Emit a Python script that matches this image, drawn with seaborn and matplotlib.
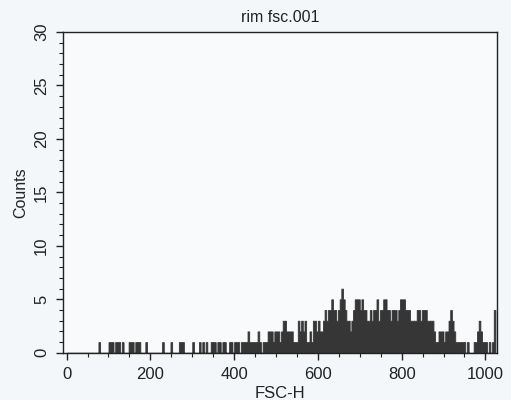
import numpy as np
import pandas as pd
import matplotlib
matplotlib.use("Agg")
import matplotlib.pyplot as plt
import seaborn as sns
from matplotlib.ticker import MultipleLocator

# FSC-H histogram, 256 channels of width 4 (0..1024)
counts = [
    0, 0, 0, 0, 0, 0, 0, 0, 0, 0, 0, 0, 0, 0, 0, 0,
    0, 0, 0, 1, 0, 0, 0, 0, 0, 1, 1, 1, 0, 1, 1, 1,
    0, 1, 0, 0, 0, 1, 1, 1, 0, 1, 1, 1, 0, 0, 0, 1,
    0, 0, 0, 0, 0, 0, 0, 0, 0, 1, 0, 0, 0, 0, 1, 0,
    0, 0, 0, 1, 1, 1, 0, 0, 0, 0, 0, 1, 0, 0, 0, 1,
    0, 1, 0, 1, 0, 0, 1, 1, 1, 0, 1, 1, 0, 1, 1, 0,
    0, 1, 1, 0, 1, 1, 1, 0, 1, 1, 1, 1, 2, 1, 1, 1,
    1, 1, 2, 1, 0, 1, 1, 1, 2, 2, 2, 1, 2, 2, 2, 1,
    2, 3, 3, 2, 2, 2, 2, 1, 1, 1, 3, 2, 3, 2, 3, 1,
    1, 2, 1, 3, 3, 2, 3, 2, 2, 3, 4, 3, 4, 4, 5, 4,
    4, 3, 4, 5, 6, 5, 4, 3, 3, 2, 3, 4, 5, 5, 5, 4,
    5, 4, 4, 3, 3, 4, 3, 4, 4, 5, 3, 4, 4, 5, 5, 4,
    4, 3, 4, 4, 4, 3, 4, 5, 5, 5, 4, 4, 4, 3, 3, 3,
    3, 4, 4, 3, 4, 4, 4, 3, 3, 3, 3, 2, 1, 1, 2, 2,
    2, 1, 2, 2, 3, 4, 3, 2, 1, 1, 1, 1, 1, 1, 0, 1,
    0, 0, 0, 1, 1, 2, 3, 2, 1, 1, 1, 0, 1, 0, 1, 4,
]
channel_width = 4
n_channels = len(counts)
centers = np.arange(n_channels) * channel_width + channel_width / 2
df = pd.DataFrame({"FSC-H": centers, "Counts": counts})

x_ticks = [0, 200, 400, 600, 800, 1000]
y_ticks = [0, 5, 10, 15, 20, 25, 30]

sns.set_style("ticks")
plt.rcParams['font.family'] = ['Liberation Sans', 'DejaVu Sans']

bg = "#f4f7f9"
fig = plt.figure(figsize=(5.11, 4.0), dpi=100, facecolor=bg)
ax = fig.add_axes([0.123, 0.118, 0.849, 0.802])
ax.set_facecolor("#f8fafb")

sns.histplot(data=df, x="FSC-H", weights="Counts", binwidth=channel_width,
             binrange=(0, n_channels * channel_width), element="step",
             fill=True, color="#363636", alpha=1, linewidth=0.6, ax=ax)

ax.set_xlim(-9, 1027)
ax.set_ylim(0, 30)
ax.set_xticks(x_ticks)
ax.set_yticks(y_ticks)
ax.xaxis.set_minor_locator(MultipleLocator(50))
ax.yaxis.set_minor_locator(MultipleLocator(1))
ax.tick_params(which="major", direction="out", length=5, width=1, labelsize=12,
               color="#222222", labelcolor="#222222")
ax.tick_params(which="minor", direction="out", length=2.8, width=0.8, color="#222222")
ax.tick_params(axis="y", which="major", pad=5)
ax.tick_params(axis="x", which="major", pad=5)
ax.tick_params(axis="y", which="both", left=True, right=False)
ax.tick_params(axis="x", which="both", bottom=True, top=False)
for lbl in ax.get_yticklabels():
    lbl.set_rotation(90)
    lbl.set_va("center")

for s in ax.spines.values():
    s.set_visible(True)
    s.set_color("#222222")
    s.set_linewidth(1.0)

ax.set_title("rim fsc.001", fontsize=11.5, pad=7, color="#222222")
ax.set_xlabel("FSC-H", fontsize=12, labelpad=3, color="#222222")
ax.set_ylabel("Counts", fontsize=11.5, labelpad=4, color="#222222")

fig.savefig("out.png", dpi=100, facecolor=bg)
